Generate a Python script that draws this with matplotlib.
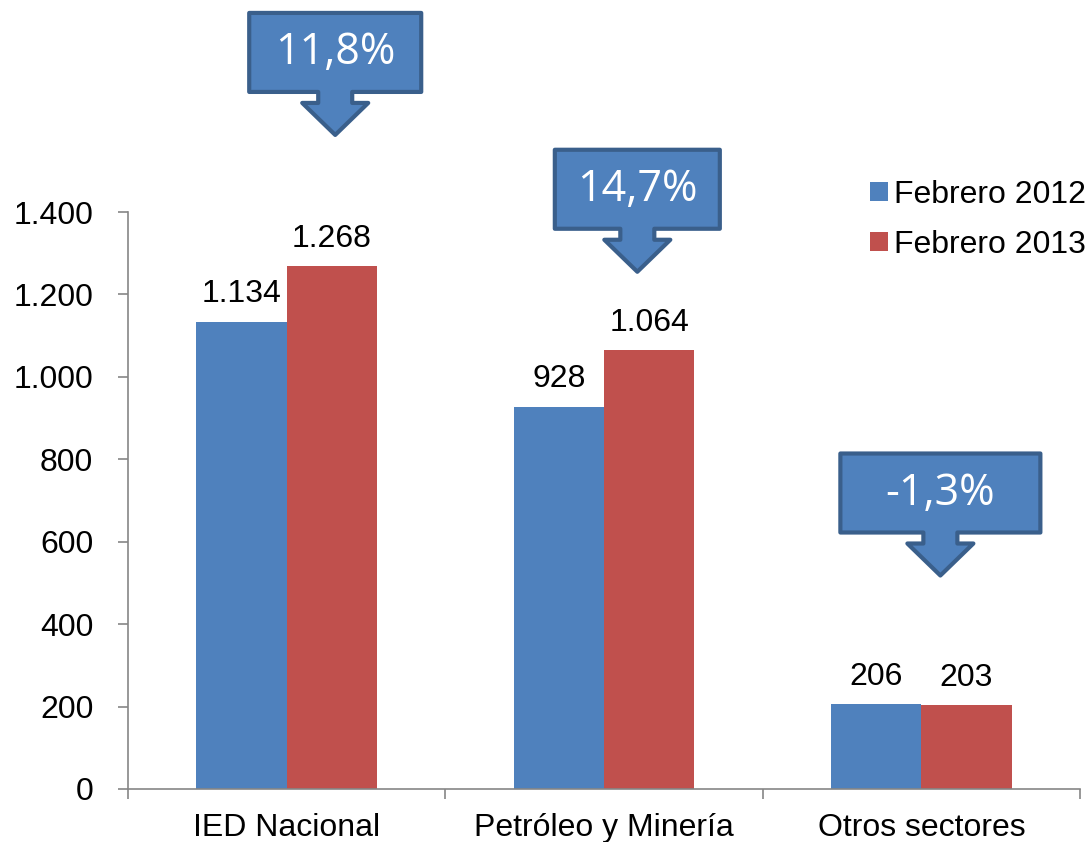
import matplotlib
matplotlib.use("Agg")
import matplotlib.pyplot as plt
import matplotlib.transforms as mtransforms
from matplotlib.patches import Polygon
from matplotlib.ticker import FuncFormatter

categories = ["IED Nacional", "Petróleo y Minería", "Otros sectores"]
series_names = ["Febrero 2012", "Febrero 2013"]
feb_2012 = [1134, 928, 206]
feb_2013 = [1268, 1064, 203]
callout_labels = ["11,8%", "14,7%", "-1,3%"]
y_ticks = [0, 200, 400, 600, 800, 1000, 1200, 1400]

BLUE = "#4F81BD"
RED = "#C0504D"
EDGE = "#3A5F8B"
AXIS = "#868686"
FONT = ["Liberation Sans", "DejaVu Sans"]
CFONT = ["Open Sans", "DejaVu Sans"]
FS = 23

W, H = 1087, 842
fig = plt.figure(figsize=(W / 100, H / 100), dpi=100)
ax = fig.add_axes([128 / W, 1 - 789 / H, (1080 - 128) / W, (789 - 212) / H])

def fmt(v):
    return f"{int(v):,}".replace(",", ".")

n = len(categories)
xs = list(range(n))
bw = 0.285
b1 = ax.bar([x - bw / 2 for x in xs], feb_2012, bw, color=BLUE, label=series_names[0])
b2 = ax.bar([x + bw / 2 for x in xs], feb_2013, bw, color=RED, label=series_names[1])

for bars, vals in ((b1, feb_2012), (b2, feb_2013)):
    for rect, v in zip(bars, vals):
        ax.annotate(fmt(v), (rect.get_x() + rect.get_width() / 2, v),
                    xytext=(0, 9), textcoords="offset points",
                    ha="center", va="bottom", fontsize=FS, family=FONT)

ax.set_xlim(-0.5, n - 0.5)
ax.set_ylim(0, 1400)
ax.set_yticks(y_ticks)
ax.yaxis.set_major_formatter(FuncFormatter(lambda v, p: fmt(v)))
ax.set_xticks(xs)
ax.set_xticklabels(categories)
ax.set_xticks([x - 0.5 for x in range(n + 1)], minor=True)
ax.tick_params(axis="x", which="major", length=0, pad=17, labelsize=FS)
ax.tick_params(axis="x", which="minor", length=7, width=1.2, color=AXIS, direction="out")
ax.tick_params(axis="y", which="major", length=7, width=1.2, color=AXIS, pad=18, labelsize=FS)
for lab in ax.get_xticklabels() + ax.get_yticklabels():
    lab.set_family(FONT)
for s in ("top", "right"):
    ax.spines[s].set_visible(False)
for s in ("left", "bottom"):
    ax.spines[s].set_color(AXIS)
    ax.spines[s].set_linewidth(1.2)

# Callouts (down-arrow shapes), positioned relative to each category
# (x offset from category centre in data units, tip height in data units, box width px)
callout_pos = [(0.153, 1587, 172), (0.105, 1255, 165), (0.060, 518, 200)]

def callout(x, y, label, wpx):
    hw = wpx / 2
    pts = [(-hw, 122), (hw, 122), (hw, 43), (17, 43), (17, 32), (33, 32), (0, 0),
           (-33, 32), (-17, 32), (-17, 43), (-hw, 43)]
    pts = [(px / 100, py / 100) for px, py in pts]
    tr = fig.dpi_scale_trans + mtransforms.ScaledTranslation(x, y, ax.transData)
    poly = Polygon(pts, closed=True, facecolor=BLUE, edgecolor=EDGE, linewidth=3,
                   joinstyle="round", transform=tr, clip_on=False, zorder=5)
    fig.add_artist(poly)
    fig.text(0, 0.82, label, transform=tr, ha="center", va="center", color="white",
             fontsize=31, family=CFONT, zorder=6)

for i, (lab, (dx, ty, wpx)) in enumerate(zip(callout_labels, callout_pos)):
    callout(i + dx, ty, lab, wpx)

leg = ax.legend(loc="upper right", bbox_to_anchor=(1086 / W, 1 - 180 / H),
                bbox_transform=fig.transFigure, frameon=False, borderaxespad=0,
                prop={"family": FONT, "size": FS}, handlelength=0.55, handleheight=0.55,
                handletextpad=0.2, labelspacing=0.62, borderpad=0)

fig.savefig("out.png", dpi=100)
